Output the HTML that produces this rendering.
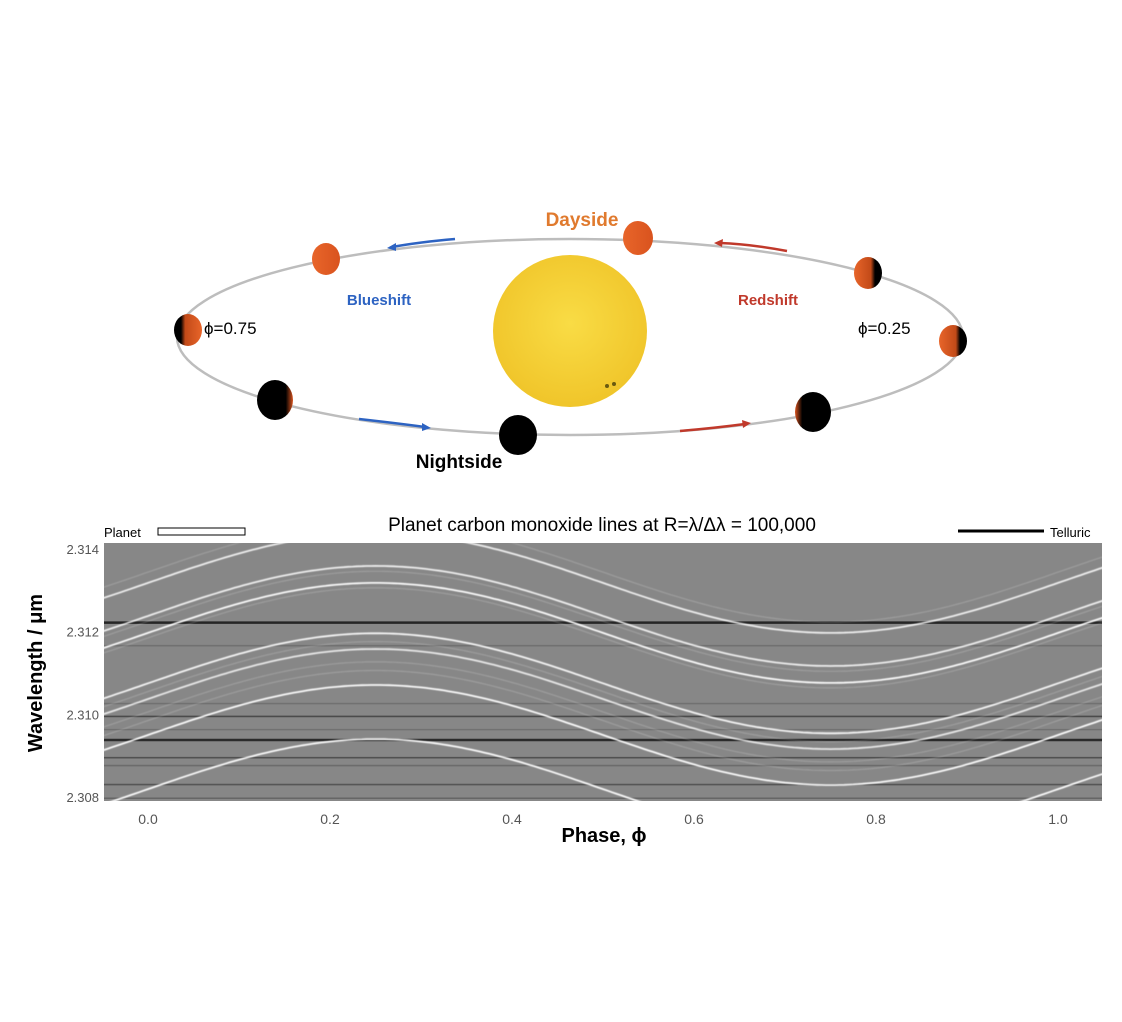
<!DOCTYPE html>
<html><head><meta charset="utf-8"><style>
html,body{margin:0;padding:0;background:#fff;width:1122px;height:1022px;overflow:hidden}
svg{display:block;font-family:"Liberation Sans",sans-serif}
</style></head><body>
<svg id="fig" width="1122" height="1022" viewBox="0 0 1122 1022">
<defs>
<radialGradient id="sun" cx="50%" cy="45%" r="55%"><stop offset="0" stop-color="#f9dc45"/><stop offset="1" stop-color="#f0c52a"/></radialGradient>
<linearGradient id="pDay" x1="0" x2="1"><stop offset="0" stop-color="#e8652a"/><stop offset="1" stop-color="#d9531e"/></linearGradient>
<linearGradient id="pR" x1="0" x2="1"><stop offset="0" stop-color="#e8652a"/><stop offset="0.6" stop-color="#c24a18"/><stop offset="0.75" stop-color="#000"/></linearGradient>
<linearGradient id="pL" x1="1" x2="0"><stop offset="0" stop-color="#e8652a"/><stop offset="0.6" stop-color="#c24a18"/><stop offset="0.75" stop-color="#000"/></linearGradient>
<linearGradient id="pRn" x1="0" x2="1"><stop offset="0" stop-color="#d9531e"/><stop offset="0.2" stop-color="#000"/></linearGradient>
<linearGradient id="pLn" x1="1" x2="0"><stop offset="0" stop-color="#d9531e"/><stop offset="0.2" stop-color="#000"/></linearGradient>
<clipPath id="plotclip"><rect x="104" y="543" width="998" height="258"/></clipPath>
<filter id="bl" x="-5%" y="-50%" width="110%" height="200%"><feGaussianBlur stdDeviation="0.5"/></filter>
</defs>

<g>
<ellipse cx="570" cy="337" rx="393" ry="98" fill="none" stroke="#bdbdbd" stroke-width="2.5"/>
<ellipse cx="570" cy="331" rx="77" ry="76" fill="url(#sun)"/>
<circle cx="607" cy="386" r="2" fill="#6a5a10"/>
<circle cx="614" cy="384" r="2" fill="#6a5a10"/>
<g>
<ellipse cx="638" cy="238" rx="15" ry="17" fill="url(#pDay)"/>
<ellipse cx="326" cy="259" rx="14" ry="16" fill="url(#pDay)"/>
<ellipse cx="188" cy="330" rx="14" ry="16" fill="url(#pL)"/>
<ellipse cx="275" cy="400" rx="18" ry="20" fill="url(#pLn)"/>
<ellipse cx="518" cy="435" rx="19" ry="20" fill="#000"/>
<ellipse cx="813" cy="412" rx="18" ry="20" fill="url(#pRn)"/>
<ellipse cx="868" cy="273" rx="14" ry="16" fill="url(#pR)"/>
<ellipse cx="953" cy="341" rx="14" ry="16" fill="url(#pR)"/>
</g>
<g stroke-width="2.5" fill="none">
<path d="M455 239 Q420 242 392 247" stroke="#2d63c2"/><path d="M387 248 l9 -5 l0 8z" fill="#2d63c2" stroke="none"/>
<path d="M359 419 Q395 423 425 427" stroke="#2d63c2"/><path d="M431 428 l-9 -5 l0 8z" fill="#2d63c2" stroke="none"/>
<path d="M787 251 Q750 244 720 243" stroke="#c0392b"/><path d="M714 243 l9 -4 l-1 8z" fill="#c0392b" stroke="none"/>
<path d="M680 431 Q715 428 745 424" stroke="#c0392b"/><path d="M751 423 l-9 -3 l1 8z" fill="#c0392b" stroke="none"/>
</g>
<text x="582" y="226" text-anchor="middle" font-size="19" font-weight="bold" fill="#e07a2e">Dayside</text>
<text x="459" y="468" text-anchor="middle" font-size="19" font-weight="bold" fill="#000">Nightside</text>
<text x="379" y="305" text-anchor="middle" font-size="15" font-weight="bold" fill="#2d63c2">Blueshift</text>
<text x="768" y="305" text-anchor="middle" font-size="15" font-weight="bold" fill="#c0392b">Redshift</text>
<text x="204" y="334" font-size="17" fill="#000">ϕ=0.75</text>
<text x="858" y="334" font-size="17" fill="#000">ϕ=0.25</text>
</g>

<text x="602" y="531" text-anchor="middle" font-size="19" fill="#000">Planet carbon monoxide lines at R=λ/Δλ = 100,000</text>
<text x="104" y="537" font-size="13" fill="#000">Planet</text>
<rect x="158" y="528" width="87" height="7" fill="#fff" stroke="#000" stroke-width="1"/>
<line x1="958" y1="531" x2="1044" y2="531" stroke="#000" stroke-width="3"/>
<text x="1050" y="537" font-size="13" fill="#000">Telluric</text>

<rect x="104" y="543" width="998" height="258" fill="#878787"/>
<g id="tell" clip-path="url(#plotclip)"></g>
<g id="plan" clip-path="url(#plotclip)" filter="url(#bl)"></g>
<g id="xt"></g>
<g id="yt"></g>
<text x="604" y="842" text-anchor="middle" font-size="20" font-weight="bold" fill="#000">Phase, ϕ</text>
<text transform="translate(42 673) rotate(-90)" text-anchor="middle" font-size="20" font-weight="bold" fill="#000">Wavelength / μm</text>
</svg>
<script>
var xTicks=[0.0,0.2,0.4,0.6,0.8,1.0];
var xTickLabels=["0.0","0.2","0.4","0.6","0.8","1.0"];
var yTicks=[2.308,2.310,2.312,2.314];
var yTickLabels=["2.308","2.310","2.312","2.314"];
var planetCenters=[2.31318,2.31238,2.31197,2.31075,2.31037,2.30950,2.30819];
var planetStrength=[0.85,0.85,0.95,0.9,0.8,0.95,0.95];
var faintCenters=[2.31344,2.31225,2.31185,2.31055,2.31006,2.30985];
var planetAmplitude=0.00121;
var tellWave=[2.31222,2.31166,2.31026,2.30995,2.30963,2.30938,2.30895,2.30876,2.30830,2.30797];
var tellDepth=[0.9,0.2,0.2,0.55,0.2,0.85,0.5,0.25,0.45,0.3];
var NS="http://www.w3.org/2000/svg";
function X(p){return 148+(p-0)*910;}
function Y(w){return 549+(2.314-w)/0.006*248;}
var tg=document.getElementById('tell');
tellWave.forEach(function(w,i){
 var l=document.createElementNS(NS,'line');
 
 
 l.setAttribute('x1',104);l.setAttribute('x2',1102);l.setAttribute('y1',Y(w));l.setAttribute('y2',Y(w));
 l.setAttribute('stroke','#000');l.setAttribute('stroke-opacity',tellDepth[i]*0.8);l.setAttribute('stroke-width',tellDepth[i]>0.7?2.5:1.6);
 tg.appendChild(l);
});
var pg=document.getElementById('plan');
function curve(c,op,wd,name){
 var d='';
 for(var p=-0.06;p<=1.06;p+=0.005){
  var w=c+planetAmplitude*Math.sin(2*Math.PI*p);
  d+=(d?'L':'M')+X(p).toFixed(1)+' '+Y(w).toFixed(1);
 }
 var e=document.createElementNS(NS,'path');
 
 
 e.setAttribute('d',d);e.setAttribute('fill','none');e.setAttribute('stroke','#fff');
 e.setAttribute('stroke-opacity',op);e.setAttribute('stroke-width',wd);
 pg.appendChild(e);
}
faintCenters.forEach(function(c){curve(c,0.18,1.2,'faint-planet-line');});
planetCenters.forEach(function(c,i){curve(c,planetStrength[i],1.8,'planet-line');});
var xg=document.getElementById('xt');
xTicks.forEach(function(t,i){
 var s=document.createElementNS(NS,'text');
 
 
 s.setAttribute('x',X(t));s.setAttribute('y',824);s.setAttribute('text-anchor','middle');
 s.setAttribute('font-size','14');s.setAttribute('fill','#555');s.textContent=xTickLabels[i];xg.appendChild(s);
});
var yg=document.getElementById('yt');
yTicks.forEach(function(t,i){
 var s=document.createElementNS(NS,'text');
 
 
 s.setAttribute('x',99);s.setAttribute('y',Y(t)+5);s.setAttribute('text-anchor','end');
 s.setAttribute('font-size','13');s.setAttribute('fill','#555');s.textContent=yTickLabels[i];yg.appendChild(s);
});
</script>
</body></html>
